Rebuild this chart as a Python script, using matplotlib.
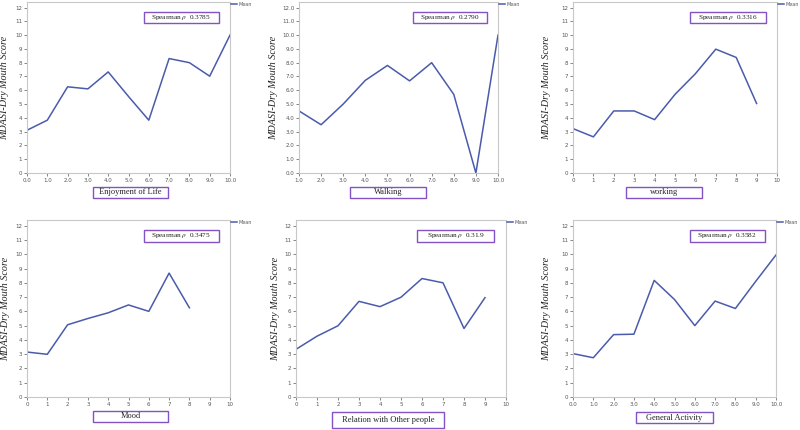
import matplotlib
matplotlib.use("Agg")
import matplotlib.pyplot as plt
from matplotlib.patches import Rectangle

plt.rcParams["mathtext.fontset"] = "stix"

# mean MDASI dry mouth score by interference item score
enjoy_x = [0, 1, 2, 3, 4, 5, 6, 7, 8, 9, 10]
enjoy_y = [3.1, 3.83, 6.25, 6.1, 7.33, 5.55, 3.83, 8.3, 8.0, 7.02, 10.0]

walk_x = [1, 2, 3, 4, 5, 6, 7, 8, 9, 10]
walk_y = [4.5, 3.5, 5.0, 6.72, 7.8, 6.68, 8.0, 5.7, 0.0, 10.0]

work_x = [0, 1, 2, 3, 4, 5, 6, 7, 8, 9]
work_y = [3.22, 2.62, 4.5, 4.5, 3.87, 5.7, 7.2, 8.98, 8.38, 5.04]

mood_x = [0, 1, 2, 3, 4, 5, 6, 7, 8]
mood_y = [3.15, 2.99, 5.06, 5.5, 5.9, 6.45, 6.0, 8.68, 6.25]

rel_x = [0, 1, 2, 3, 4, 5, 6, 7, 8, 9]
rel_y = [3.34, 4.26, 4.99, 6.7, 6.33, 6.99, 8.3, 8.0, 4.8, 6.96]

act_x = [0, 1, 2, 3, 4, 5, 6, 7, 8, 9, 10]
act_y = [3.04, 2.75, 4.37, 4.4, 8.17, 6.83, 5.0, 6.72, 6.2, 8.1, 9.95]

titles = ["Enjoyment of Life", "Walking", "working",
          "Mood", "Relation with Other people", "General Activity"]
spearman = ["0.3785", "0.2790", "0.3316", "0.3475", "0.31.9", "0.3582"]
xtick_fmt = ["{:.1f}", "{:.1f}", "{:d}", "{:d}", "{:d}", "{:.1f}"]
ytick_fmt = ["{:d}", "{:.1f}", "{:d}", "{:d}", "{:d}", "{:d}"]
xmins = [0, 1, 0, 0, 0, 0]

xs = [enjoy_x, walk_x, work_x, mood_x, rel_x, act_x]
ys = [enjoy_y, walk_y, work_y, mood_y, rel_y, act_y]

W, H = 800, 430
# axes boxes in pixels: left, right, top, bottom
boxes = [(27, 230, 2, 173), (299, 498, 2, 173), (573, 777, 2, 173),
         (27, 230, 220, 397), (296, 506, 220, 397), (573, 776, 220, 397)]
# x label boxes in axes fraction: x0, x1, y0, y1
lab_boxes = [(0.325, 0.695, -0.146, -0.082), (0.256, 0.638, -0.146, -0.082),
             (0.26, 0.632, -0.146, -0.082), (0.325, 0.695, -0.141, -0.079),
             (0.17, 0.705, -0.175, -0.085), (0.31, 0.69, -0.147, -0.085)]
ylab_x = [-0.089, -0.105, -0.108, -0.084, -0.076, -0.108]

line_col = "#4a5bab"
box_col = "#8352c4"
serif = ["Liberation Serif", "DejaVu Serif"]

fig = plt.figure(figsize=(W / 100, H / 100), dpi=100)

for i in range(6):
    l, r, t, b = boxes[i]
    ax = fig.add_axes([l / W, 1 - b / H, (r - l) / W, (b - t) / H])
    ax.plot(xs[i], ys[i], color=line_col, lw=1.1, label="Mean")
    ax.set_xlim(xmins[i], 10)
    ax.set_ylim(0, 12.4)
    xt = list(range(xmins[i], 11))
    ax.set_xticks(xt)
    ax.set_xticklabels([xtick_fmt[i].format(float(v) if "f" in xtick_fmt[i] else v) for v in xt])
    yt = list(range(0, 13))
    ax.set_yticks(yt)
    ax.set_yticklabels([ytick_fmt[i].format(float(v) if "f" in ytick_fmt[i] else v) for v in yt])
    ax.tick_params(labelsize=4, colors="#555555", length=2, width=0.5, pad=1.5)
    for s in ax.spines.values():
        s.set_color("#c8c8c8")
        s.set_linewidth(0.8)

    ax.set_ylabel("MDASI-Dry Mouth Score", family=serif, style="italic",
                  fontsize=7.3, color="#222222")
    ax.yaxis.set_label_coords(ylab_x[i], 0.5)

    ax.add_patch(Rectangle((0.575, 0.877), 0.37, 0.066, transform=ax.transAxes,
                           fill=True, facecolor="white", edgecolor=box_col,
                           lw=1.0, clip_on=False))
    ax.text(0.76, 0.91, "Spearman $\\rho$  " + spearman[i], transform=ax.transAxes,
            ha="center", va="center", family=serif, fontsize=5.2, color="#222222")

    x0, x1, y0, y1 = lab_boxes[i]
    ax.add_patch(Rectangle((x0, y0), x1 - x0, y1 - y0, transform=ax.transAxes,
                           fill=False, edgecolor=box_col, lw=1.0, clip_on=False))
    ax.text((x0 + x1) / 2, (y0 + y1) / 2, titles[i], transform=ax.transAxes,
            ha="center", va="center", family=serif, fontsize=6, color="#222222")

    ax.legend(loc="upper left", bbox_to_anchor=(1.0, 1.01), frameon=False,
              fontsize=3.5, handlelength=1.2, handletextpad=0.3, borderpad=0.1,
              borderaxespad=0.2, labelcolor="#555555")

fig.savefig("out.png", dpi=100)
